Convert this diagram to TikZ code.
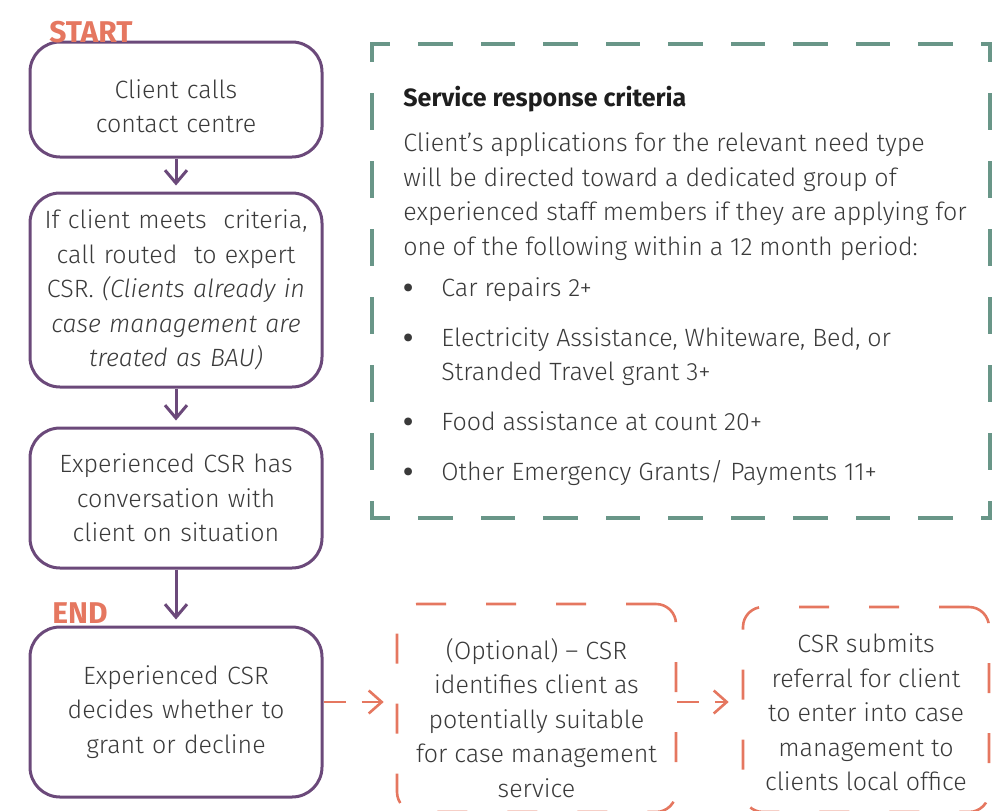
\documentclass[tikz,border=0pt]{standalone}
\usepackage{fontspec}
\setmainfont{Fira Sans Light}[BoldFont={Fira Sans Bold},ItalicFont={Fira Sans Light Italic}]
\newfontfamily\tagfont{Fira Sans Bold}
\usetikzlibrary{arrows.meta}

\definecolor{flowpurple}{RGB}{107,73,122}
\definecolor{accent}{RGB}{229,119,96}
\definecolor{framegreen}{RGB}{105,150,136}
\definecolor{inkgray}{RGB}{58,58,58}
\definecolor{titleink}{RGB}{30,30,30}

\newcommand{\critdot}{\raisebox{-0.6pt}{\tagfont\fontsize{14}{17.25}\selectfont\textbullet}}

\tikzset{
  bodytext/.style={text=inkgray, font=\fontsize{12.5}{17.25}\selectfont},
  flowbox/.style={bodytext, draw=flowpurple, line width=1.5pt, rounded corners=15pt,
    minimum width=146pt, text width=140pt, align=center, inner sep=0pt},
  optbox/.style={draw=accent, line width=1.3pt, rounded corners=10pt,
    dash pattern=on 15pt off 20pt, inner sep=0pt},
  opttext/.style={bodytext, align=center, inner sep=0pt},
  critedge/.style={draw=framegreen, line width=2.3pt, line cap=rect},
  flowarrow/.style={draw=flowpurple, line width=1.5pt,
    -{Straight Barb[length=6.5pt,width=11pt]}, shorten >=3pt},
  optarrow/.style={draw=accent, line width=1.3pt, dash pattern=on 11pt off 8pt,
    -{Straight Barb[length=6.5pt,width=11.5pt]}},
  tag/.style={text=accent, font=\tagfont\fontsize{15}{17}\selectfont,
    inner sep=0pt, anchor=base west}
}

\begin{document}
\begin{tikzpicture}[x=0.5pt,y=-0.5pt]
  \useasboundingbox (0,0) rectangle (992,810);
  \clip (0,0) rectangle (992,810);

  % main flow, left column
  \node[flowbox,minimum height=57.5pt] (call) at (176,99.5)
    {\rule{0pt}{16pt}Client calls\\contact centre};
  \node[flowbox,minimum height=97pt] (route) at (176,290)
    {If client meets~ criteria,\\call routed~ to expert\\CSR. \textit{(Clients already in}\\
     \textit{case management are}\\\textit{treated as BAU)}};
  \node[flowbox,minimum height=70pt] (talk) at (176,498)
    {Experienced CSR has\\conversation with\\client on situation};
  \node[flowbox,minimum height=85pt] (decide) at (176,712)
    {Experienced CSR\\decides whether to\\grant or decline};

  \node[tag] (start) at (49,42) {START};
  \node[tag] (end) at (52,623) {END};

  \draw[flowarrow] (call.south) -- (route.north);
  \draw[flowarrow] (route.south) -- (talk.north);
  \draw[flowarrow] (talk.south) -- (decide.north);

  % criteria panel
  \coordinate (fnw) at (372,44);
  \coordinate (fse) at (990,518);
  \draw[critedge,dash pattern=on 15pt off 16.25pt,dash phase=7pt] (fnw) -- (fse |- fnw);
  \draw[critedge,dash pattern=on 15pt off 16.25pt,dash phase=7pt] (fnw |- fse) -- (fse);
  \draw[critedge,dash pattern=on 16.5pt off 17.5pt,dash phase=8.5pt] (fnw) -- (fnw |- fse);
  \draw[critedge,dash pattern=on 16.5pt off 17.5pt,dash phase=8.5pt] (fse |- fnw) -- (fse);

  \node[bodytext,anchor=north west,inner sep=0pt] (crit) at (403,82) {%
    \begin{tabular}{@{}p{19pt}@{}l@{}}
      \multicolumn{2}{@{}l@{}}{\color{titleink}\bfseries Service response criteria}\\[5.25pt]
      \multicolumn{2}{@{}l@{}}{Client’s applications for the relevant need type}\\
      \multicolumn{2}{@{}l@{}}{will be directed toward a dedicated group of}\\
      \multicolumn{2}{@{}l@{}}{experienced staff members if they are applying for}\\
      \multicolumn{2}{@{}l@{}}{one of the following within a 12 month period:}\\[3.25pt]
      \critdot & Car repairs 2+\\[7.75pt]
      \critdot & Electricity Assistance, Whiteware, Bed, or\\
               & Stranded Travel grant 3+\\[7.75pt]
      \critdot & Food assistance at count 20+\\[7.75pt]
      \critdot & Other Emergency Grants/ Payments 11+
    \end{tabular}};

  % optional referral steps
  \node[optbox,minimum width=139.5pt,minimum height=104pt] (opt) at (536.5,708) {};
  \node[opttext] (opttext) at (536.5,718)
    {(Optional) – CSR\\identifies client as\\potentially suitable\\for case management\\service};
  \node[optbox,minimum width=123pt,minimum height=102.5pt] (refer) at (866,709.5) {};
  \node[opttext] (refertext) at (866,712.5)
    {CSR submits\\referral for client\\to enter into case\\management to\\clients local office};

  \draw[optarrow,shorten >=6pt] ([yshift=5pt]decide.east) -- ([yshift=5pt]decide.east -| opt.west);
  \draw[optarrow,shorten >=6.5pt] ([yshift=3pt]opt.east) -- ([yshift=3pt]opt.east -| refer.west);
\end{tikzpicture}
\end{document}
